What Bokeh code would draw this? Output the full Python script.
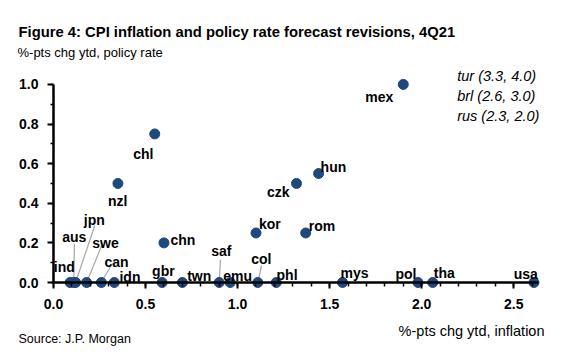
from bokeh.plotting import figure
from bokeh.models import (Range1d, SingleIntervalTicker, Label,
                          ColumnDataSource, PrintfTickFormatter)
from bokeh.core.properties import value
from bokeh.embed import file_html
from bokeh.resources import INLINE

# ---------------- data ----------------
countries = ["mex", "chl", "nzl", "czk", "hun", "kor", "rom", "chn",
             "ind", "aus", "jpn", "swe", "can", "idn", "gbr", "twn",
             "saf", "emu", "col", "phl", "mys", "pol", "tha", "usa"]
inflation_rev = [1.90, 0.55, 0.35, 1.32, 1.44, 1.10, 1.37, 0.60,
                 0.09, 0.11, 0.12, 0.18, 0.26, 0.33, 0.59, 0.70,
                 0.90, 0.96, 1.11, 1.21, 1.57, 1.98, 2.06, 2.61]
policy_rev = [1.00, 0.75, 0.50, 0.50, 0.55, 0.25, 0.25, 0.20,
              0.00, 0.00, 0.00, 0.00, 0.00, 0.00, 0.00, 0.00,
              0.00, 0.00, 0.00, 0.00, 0.00, 0.00, 0.00, 0.00]
offscale_notes = ["tur  (3.3, 4.0)", "brl (2.6, 3.0)", "rus (2.3, 2.0)"]

title_text = "Figure 4: CPI inflation and policy rate forecast revisions, 4Q21"
y_title = "%-pts chg ytd, policy rate"
x_title = "%-pts chg ytd, inflation"
source_text = "Source: J.P. Morgan"
x_axis_bounds = (0.0, 2.635)
y_axis_bounds = (0.0, 1.0)

# ---------------- layout / style ----------------
W, H = 581, 353
ORIGIN_PX, ORIGIN_PY = 53, 282      # pixel position of (0, 0)
SX, SY = 184.09, 198.1              # pixels per unit
X0 = -ORIGIN_PX / SX
X1 = X0 + W / SX
Y1 = ORIGIN_PY / SY
Y0 = Y1 - H / SY
FONT = "Liberation Sans"
DOT = "#1F497D"


def px2x(px):
    return X0 + px / SX


def py2y(py):
    return Y1 - py / SY


# label offsets (pixels, left edge / baseline relative to the point)
label_off = {
    "mex": (-38, 12.5), "chl": (-21.5, 20), "nzl": (-10, 18), "czk": (-29.5, 9),
    "hun": (2, -7), "kor": (3, -8.5), "rom": (3, -6.5), "chn": (6.5, -3),
    "ind": (-16.3, -15.3), "aus": (-11.6, -45.3), "jpn": (8.2, -62.7),
    "swe": (5.6, -39.3), "can": (3.1, -20.3), "idn": (5.2, -5.5),
    "gbr": (-10, -11.3), "twn": (4.8, -6.5), "saf": (-8, -31.3), "emu": (-7, -6.5),
    "col": (-6.6, -23.7), "phl": (0.3, -8), "mys": (-2, -9.3),
    "pol": (-22.5, -8.7), "tha": (1.1, -9.3), "usa": (-20.2, -8.7),
}
# leader lines: top end offset (pixels) relative to the point
leader_off = {
    "aus": (0.7, -38.7), "jpn": (19.2, -57), "swe": (15.9, -39),
    "can": (10.8, -18.7), "saf": (1.3, -22.7), "col": (3.7, -17),
}

p = figure(width=W, height=H, x_range=Range1d(X0, X1), y_range=Range1d(Y0, Y1),
           output_backend="svg", toolbar_location=None,
           min_border_left=0, min_border_right=0,
           min_border_top=0, min_border_bottom=0)
p.outline_line_color = None
p.xgrid.visible = False
p.ygrid.visible = False
p.background_fill_color = "white"
p.border_fill_color = "white"

xa = p.xaxis[0]
xa.fixed_location = 0
xa.bounds = x_axis_bounds
xa.ticker = SingleIntervalTicker(interval=0.5, num_minor_ticks=5)
xa.formatter = PrintfTickFormatter(format="%.1f")
xa.axis_line_width = 2.5
xa.axis_line_color = "black"
xa.major_tick_in = 0
xa.major_tick_out = 6
xa.minor_tick_in = 0
xa.minor_tick_out = 4
xa.major_tick_line_width = 2
xa.minor_tick_line_width = 1.5
xa.major_tick_line_color = "black"
xa.minor_tick_line_color = "black"
xa.major_label_standoff = 10
xa.major_label_text_font = FONT
xa.major_label_text_font_style = "bold"
xa.major_label_text_font_size = "14px"
xa.major_label_text_color = "black"

ya = p.yaxis[0]
ya.fixed_location = 0
ya.bounds = y_axis_bounds
ya.ticker = SingleIntervalTicker(interval=0.2, num_minor_ticks=2)
ya.formatter = PrintfTickFormatter(format="%.1f")
ya.axis_line_width = 2.5
ya.axis_line_color = "black"
ya.major_tick_out = 6
ya.major_tick_in = 0
ya.minor_tick_out = 3
ya.minor_tick_in = 0
ya.major_tick_line_width = 2
ya.minor_tick_line_width = 1.5
ya.major_tick_line_color = "black"
ya.minor_tick_line_color = "black"
ya.major_label_standoff = 9
ya.major_label_text_font = FONT
ya.major_label_text_font_style = "bold"
ya.major_label_text_font_size = "14px"
ya.major_label_text_color = "black"

# leader lines
lx0, ly0, lx1, ly1 = [], [], [], []
for c, x, y in zip(countries, inflation_rev, policy_rev):
    if c in leader_off:
        dx, dy = leader_off[c]
        lx0.append(x + dx / SX)
        ly0.append(y - dy / SY)
        lx1.append(x)
        ly1.append(y)
p.segment(x0=lx0, y0=ly0, x1=lx1, y1=ly1, line_color="#A6A6A6", line_width=1.2)

# points
src = ColumnDataSource(dict(x=inflation_rev, y=policy_rev, name=countries))
p.scatter("x", "y", source=src, size=10, fill_color=DOT, line_color=DOT)

# point labels
tx = [x + label_off[c][0] / SX for c, x in zip(countries, inflation_rev)]
ty = [y - label_off[c][1] / SY for c, y in zip(countries, policy_rev)]
lsrc = ColumnDataSource(dict(x=tx, y=ty, name=countries))
p.text("x", "y", text="name", source=lsrc, text_font=value(FONT),
       text_font_style="bold", text_font_size="14px", text_color="black",
       text_align="left", text_baseline="alphabetic")


def add_label(text, px, py, size, style="normal", align="left"):
    p.add_layout(Label(x=px2x(px), y=py2y(py), text=text, text_font=FONT,
                       text_font_size=size, text_font_style=style,
                       text_color="black", text_align=align,
                       text_baseline="alphabetic"))


add_label(title_text, 18, 31, "14.8px", "bold")
add_label(y_title, 17, 52, "13px")
add_label(x_title, 544, 330.7, "14.5px", align="right")
add_label(source_text, 18, 338, "12.5px")
for i, note in enumerate(offscale_notes):
    add_label(note, 456.7, 75 + 20.3 * i, "14.5px", "italic")

open("out.html", "w").write(file_html(p, INLINE))
